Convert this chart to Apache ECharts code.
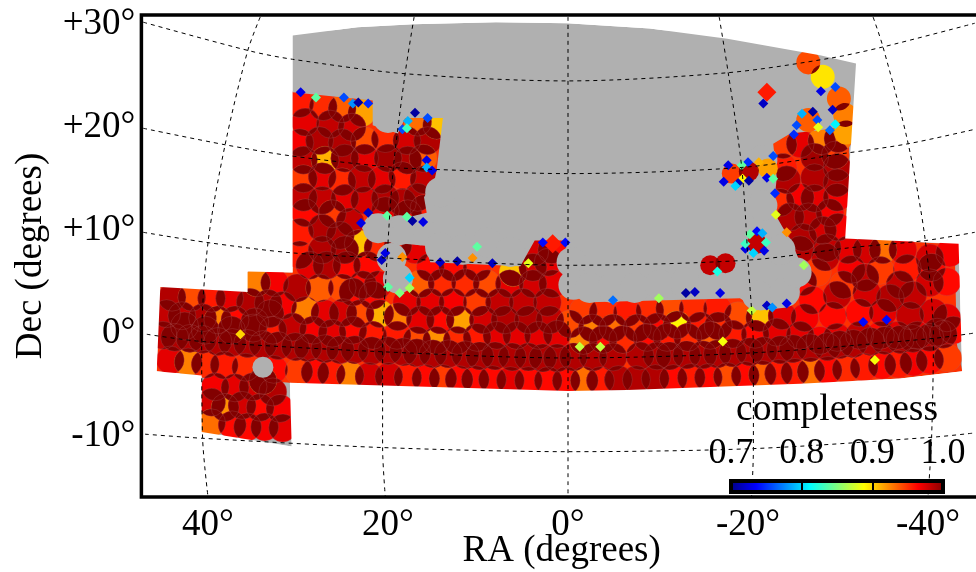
<!DOCTYPE html>
<html><head><meta charset="utf-8">
<style>html,body{margin:0;padding:0;background:#fff}#c{width:976px;height:572px}</style>
<script src="https://cdn.jsdelivr.net/npm/echarts@6/dist/echarts.min.js"></script>
</head><body><div id="c"></div>
<script>
const raTicks=[40,20,0,-20,-40];
const decTicks=[30,20,10,0,-10];
const barTicks=[0.7,0.8,0.9,1.0];
const barInnerTicks=[0.8,0.9];
const jet=['#00007f','#0000ff','#007fff','#00ffff','#7fff7f','#ffff00','#ff7f00','#ff0000','#7f0000'];

const footprint=[[30.6,28.9],[23.4,29.7],[17.2,30],[8,30.2],[0.1,30.1],[-9.1,29.6],[-17.7,28.6],[-28,27],[-32,26.2],[-30.8,9.2],[-43.4,8.7],[-43.8,-3.7],[-36.9,-4.4],[-25.8,-4.9],[-6.6,-5.5],[0,-5.6],[12,-5.3],[30.9,-4.8],[30.7,-11],[40.7,-9.6],[40.7,-4.1],[45.7,-3.7],[45.3,4.5],[35.6,4],[35.6,6],[30.6,5.9]];
const covered=[[30.6,23.4],[-31.5,23.4],[-30.8,9.2],[-42,8.7],[-43,7],[-43.2,-1],[-43.8,-3.7],[-36.9,-4.4],[-25.8,-4.9],[-6.6,-5.5],[0,-5.6],[12,-5.3],[30.9,-4.8],[40.7,-4.1],[45.7,-3.7],[45.3,4.5],[35.6,4],[35.6,6],[30.6,5.9]];
const uncovered=[[30.6,29.4],[30.6,23.4],[21.7,22.6],[21.7,20.2],[18.9,19.4],[18.1,20.9],[13.9,20.9],[14.6,15.8],[14.8,15],[16,13.2],[15.7,11.7],[18.1,11.2],[22,11.6],[22.9,10.2],[21.8,9],[15.9,8.5],[15.3,6.9],[5.3,6.5],[3.7,9],[0.2,9],[0.2,5.6],[-2.4,3],[-19.1,3.4],[-21.3,2.2],[-24.3,2.5],[-26.7,5.6],[-25.8,6.9],[-24.9,8.7],[-22.8,11.9],[-23.2,15.1],[-22.8,18.4],[-24.7,19.4],[-28,19.7],[-31.1,20.2],[-32.4,20.2],[-32.4,29.4]];
const maskedFields=[[20,20.9],[14.2,13.7],[16.4,10],[18.7,10],[21.1,10.2],[19.6,7.3],[18.9,5.3],[14.2,8.3],[11.7,8.1],[9,8.8],[6.4,7.9],[-0.4,6.9],[-0.6,4.7],[-2.4,4.4],[-4.9,4.4],[-7.4,4.4],[-10.2,4.7],[-13,4.9],[-16,4.9],[-18.6,4.9],[-21,3.7],[-24.1,4],[-25.4,5.9],[-23.6,8.1],[-21.6,12.4],[-21.6,16.8]];
const maskedSmall=[[33.9,-3.3]];

const tilesBottomRow=[[44.2,-2.6,.97],[42.2,-2.8,.925],[40.3,-3,.95],[38.2,-3.1,.955],[35.8,-3.3,.95],[32.7,-3.5,.96],[29.9,-3.7,.945],[28.1,-3.8,.96],[26.3,-3.9,.955],[24.2,-4.1,.925],[22.1,-4.2,.975],[19.9,-4.2,.975],[17.8,-4.3,.955],[15.8,-4.4,.96],[13.9,-4.4,.945],[12.1,-4.5,.96],[10.3,-4.5,.96],[8.4,-4.5,.96],[6.4,-4.6,.97],[4.4,-4.6,.96],[2.2,-4.6,.96],[0.2,-4.6,.96],[-1.8,-4.6,.93],[-3.6,-4.6,.955],[-5.6,-4.5,.985],[-7.6,-4.5,.985],[-9.7,-4.4,.985],[-11.7,-4.4,.96],[-13.7,-4.3,.955],[-15.6,-4.3,.96],[-17.7,-4.2,.94],[-19.7,-4.1,.96],[-21.6,-4,.935],[-23.4,-3.9,.955],[-25.2,-3.8,.955],[-27,-3.7,.93],[-28.9,-3.6,.96],[-30.9,-3.5,.95],[-32.9,-3.3,.955],[-34.9,-3.1,.96],[-36.7,-3,.955],[-38.4,-2.8,.965],[-40.2,-2.6,.96],[-42.2,-2.4,.945]];
const tilesSecondRow=[[45,-0.2,.98],[43.7,-.4,.985],[42,-.5,.985],[40.6,-.6,.985],[38.9,-.8,.985],[37.3,-.9,.985],[35.6,-1,.985],[33.9,-1.1,.985],[32.2,-1.2,.985],[30.3,-1.3,.985],[28.9,-1.4,.985],[27,-1.5,.985],[25.3,-1.6,.985],[23.7,-1.6,.985],[21.8,-1.7,.985],[20,-1.7,.985],[18.3,-1.8,.985],[16.8,-1.9,.985],[15,-2,.985],[13.3,-2,.985],[11.4,-2.1,.985],[9.8,-2.2,.985],[8.1,-2.2,.985],[6.2,-2.3,.985],[4.4,-2.3,.985],[2.8,-2.4,.985],[1.2,-2.4,.985],[-.6,-2.3,.985],[-2.8,-2.3,.985],[-5,-2.3,.985],[-8,-2.2,.985],[-9.9,-2.2,.985],[-11.3,-2.2,.985],[-13.2,-2.1,.985],[-15,-2.1,.985],[-16.6,-2,.985],[-18.3,-1.9,.985],[-20.2,-1.8,.985],[-21.7,-1.7,.985],[-23.6,-1.6,.985],[-25,-1.5,.985],[-26.9,-1.4,.985],[-28.8,-1.3,.985],[-30.2,-1.1,.985],[-31.7,-1,.985],[-33.6,-.8,.985],[-35.2,-.7,.985],[-36.9,-.6,.985],[-38.3,-.5,.985],[-40.2,-.4,.985],[-41.7,-.1,.985]];
const tilesLowerLeft=[[44,3.5,.985],[41.8,3.5,.94],[39.6,3.4,.955],[37.6,3.4,.97],[35.3,3,.985],[33.3,2.9,.985],[44.6,1.9,.98],[42.9,1.7,.98],[40.6,1.5,.985],[38.9,1.3,.925],[37,1.3,.96],[34.8,1.1,.985],[33.1,1.9,.97],[31.7,2.7,.965],[29.2,2.2,.925],[27,1.9,.97],[25,2,.975],[23.1,1.9,.94],[20.9,1.9,.91],[18.9,1.6,.925],[42.6,.7,.985],[40.3,.3,.985],[37.4,.3,.98],[35,.5,.96],[32.8,.3,.955],[30.6,.6,.98],[28.3,.3,.965],[26.2,0,.97],[23.9,.3,.96],[21.7,-.2,.955],[19,-.2,.955],[16.8,-.7,.94],[14.6,-.7,.92],[12.3,-.7,.95],[10.1,-.4,.955],[7.9,-.2,.97],[5.7,-.2,.97],[3.3,-.2,.97],[1.2,-.1,.97]];
const tilesMiddle=[[16.4,1.3,.97],[14.2,1.3,.96],[12,1.3,.915],[9.4,1.3,.975],[7,1.3,.985],[4.4,1.3,.985],[2,1.3,.98],[17.9,3,.97],[15.3,3,.97],[12.8,3,.965],[10.1,3,.945],[7.6,3,.98],[5,3,.98],[2.3,3,.98],[21.7,3.7,.96],[23.9,4,.96],[32.6,4.9,.965],[34.6,4.9,.925],[30.1,4.4,.985],[27.6,4.4,.935],[25.1,4.4,.94],[22.8,4.7,.96],[21.1,4.7,.97],[16.4,4.8,.935],[14,4.9,.95],[11.4,4.9,.95],[9,4.8,.94],[6.5,4.8,.97],[3.9,4.8,.975],[1.7,4.8,.97],[28.7,6.6,.97],[26.8,6.6,.985],[24.6,6.6,.96],[22.3,6.6,.96],[15.3,6.4,.96],[12.8,6.4,.96],[10.1,6.4,.955],[6.1,5.9,.905],[3.9,6.4,.975],[2.2,6.9,.97],[3.7,7.9,.975],[1.8,8.1,.96]];
const tilesCentreRight=[[-1.7,2.2,.945],[-3.9,2,.95],[-6.6,2,.955],[-9.1,2.2,.95],[-11.3,2.4,.94],[-13.9,2.4,.95],[-16.6,2.4,.955],[-18.9,1.7,.94],[-21.3,1.5,.905],[-23.8,1.7,.97],[-.2,.9,.94],[-2.7,.5,.925],[-5,.5,.93],[-7.7,.5,.945],[-9.9,.6,.96],[-12.1,.8,.89],[-14.7,.7,.955],[-16.7,.7,.95],[-1.7,-.7,.925],[-3.9,-.6,.96],[-6.1,-.6,.95],[-8.8,-.4,.96],[-11,-.4,.955],[-13.3,-.4,.95],[-15.8,-.2,.935],[-18.3,-.1,.955],[-20.8,-.1,.96],[-23.2,.1,.97]];
const tilesRightBlock=[[-26.1,5,.96],[-27.7,5.9,.945],[-30.6,4.7,.945],[-34.7,6.1,.945],[-37.7,6.3,.955],[-40.2,4.9,.975],[-42.1,5,.96],[-36.9,4.7,.98],[-29.9,3.7,.98],[-33.2,3.9,.975],[-35.8,3.4,.985],[-38.3,3.7,.98],[-40.6,2,.975],[-42.1,1.5,.97],[-38,1.7,.98],[-35,2,.97],[-32.4,2,.96],[-29.4,1.7,.96],[-27.2,3.2,.96],[-26.3,1.5,.965],[-33.2,8.1,.975],[-37.2,8.1,.97],[-40.2,7.3,.975],[-42.4,7.8,.965],[-35,8.1,.93],[-31.1,8.1,.97],[-28.6,7.4,.98],[-32.4,-.2,.98],[-34.7,-.2,.96],[-36.6,-.2,.97],[-38.8,-.2,.97],[-41,.1,.975],[-42.8,.3,.96],[-29.9,-.4,.97],[-28,-.7,.965],[-25.8,-.2,.97],[-24.7,6.1,.985],[-31.5,6.2,.965],[-40.4,6.4,.96],[-33,5.4,.98]];
const tilesUpperRight=[[-25.8,18.4,.97],[-27.4,17.1,.99],[-29.9,16.1,.985],[-23.9,16.1,.955],[-27.4,15.1,.985],[-24.3,14.9,.985],[-29.9,14.6,.985],[-25.8,13.2,.965],[-29.9,13.2,.965],[-27.4,13.1,.97],[-23.6,12.7,.95],[-29.1,11.7,.965],[-24.7,11.3,.985],[-26.7,11.3,.98],[-26.1,9.3,.985],[-28.3,10,.975],[-30,10.3,.965],[-28.8,8.3,.98],[-25.8,8.1,.985],[-28.2,18.7,.925],[-30,18.9,.93],[-23.9,18.3,.945],[-29.7,17.3,.945]];
const tilesUpperLeft=[[29.8,22.3,.955],[27.2,22,.95],[25.1,21.8,.935],[22.9,21.4,.915],[29.2,20.5,.97],[26.4,20.3,.98],[24,20,.975],[29.8,18.5,.965],[27.6,18.7,.985],[25.1,18.5,.985],[22.6,18.7,.94],[20.3,18.9,.95],[17.9,18.7,.975],[15.6,18.7,.985],[16.7,20.5,.93],[14.6,20.2,.905],[29.4,16.8,.98],[27,16.8,.91],[24.8,17,.985],[22.6,17,.97],[20,17,.99],[17.8,16.8,.985],[16.1,17,.935],[29.4,15,.945],[27.3,15.2,.97],[25.1,14.7,.95],[22.9,15,.98],[20.7,14.9,.97],[18.4,15.3,.955],[16,14.9,.98],[29.4,13.2,.98],[27.3,12.9,.98],[24.8,13.1,.97],[22.6,12.9,.975],[20.3,13.1,.985],[18.4,12.7,.985],[16.7,13.2,.985],[29.2,11.7,.96],[26.2,11.6,.945],[24.2,10.8,.98],[20.3,11.9,.97],[17.8,11.6,.96],[16,12.1,.955],[29.8,9.8,.955],[27.3,10.2,.985],[25.3,9.5,.985],[29.8,7.6,.955],[27.3,8.1,.985],[24.8,8.1,.985],[23.3,8.7,.905],[21.1,8.3,.95],[18.9,8.5,.95],[17,8.1,.97]];
const tilesSouthPatch=[[39.2,-5.2,.965],[37,-5.3,.97],[35,-5.2,.975],[32.8,-5.7,.985],[39.6,-6.7,.975],[38.1,-7.2,.92],[36.2,-7,.975],[34.2,-7.2,.96],[32,-7.3,.965],[39.6,-8.7,.93],[37.3,-8.9,.96],[35.6,-9.1,.96],[33.7,-9.1,.965],[31.7,-9.2,.97],[33.9,-4.6,.92]];
const islandTiles=[[-26.7,26.3,.94],[-28.3,24.9,.895],[-30.1,22.8,.935],[-30.8,21.2,.925],[-30.9,19.5,.915],[-26.7,20.7,.935]];
const smallIslandTiles=[[-15.8,6.6,.98],[-17.5,6.8,.98],[-18.2,15.5,.945],[-20.1,15.7,.985],[-22.2,16,.915],[-21,8.7,.98]];
const starIslands=[[-22.1,23.4,.955],[1.7,8.7,.955]];
const fragments=[[29.7,23.4,.73],[28,22.9,.84],[24.9,22.9,.76],[23.9,22.3,.78],[23.3,22.4,.71],[22.2,22.3,.75],[17,21.4,.71],[17.8,20.6,.79],[15.6,20.9,.76],[18.4,19.8,.76],[17.9,19.9,.83],[15.7,16.8,.73],[15.7,16.1,.79],[15.1,15.8,.73],[22.2,11.7,.72],[20.1,11.4,.84],[17.3,10.9,.71],[16.1,10.8,.73],[17.9,11.3,.84],[23,10.7,.73],[20.3,7.8,.73],[10.1,8.4,.84],[2.8,8.8,.74],[.3,8.8,.74],[12.3,7,.71],[14.2,6.9,.72],[8.4,6.8,.72],[17.6,5.4,.8],[20,4.5,.84],[18.7,3.9,.85],[17.6,4.4,.86],[20.7,7.1,.72],[18.4,7.4,.92],[10.6,7.3,.92],[4.4,6.8,.88],[-5,3.2,.77],[-10.1,3.4,.86],[-13.1,3.9,.71],[-14.1,4,.72],[-16.9,3.9,.73],[-22.1,2.7,.72],[-24.3,2.9,.73],[-22.7,2.5,.78],[-26.2,6.6,.86],[-20.4,2.2,.87],[-16.6,6,.82],[-17.2,-.8,.885],[-34.1,-2.6,.885],[-1.3,-1.3,.87],[-3.6,-1.3,.87],[-32.8,1.1,.74],[-35.4,1.3,.74],[-29.4,21.7,.72],[-29.7,20.3,.81],[-29.1,19.7,.77],[-28.1,23.5,.73],[-29.7,23.9,.76],[-22.8,17.2,.76],[-23,13.6,.75],[-23.1,11.5,.88],[-24.3,9.8,.92],[-21.7,22.3,.72],[-26,21.3,.79],[-27.7,20.7,.76],[-27.2,21.5,.71],[-25.4,20.2,.76],[-27.8,20,.88],[-25.1,19.3,.75],[-17.8,16.3,.73],[-20,16.6,.75],[-19.3,16.3,.84],[-19.4,15,.89],[-20.1,14.8,.71],[-18.9,14.6,.72],[-17.3,14.7,.73],[-22.1,15.1,.73],[-22.8,15,.84],[-18.6,14.3,.8],[-21.2,16.6,.91],[-20.2,9.6,.84],[-21,9.9,.74],[-21.6,9.7,.79],[-22,8.8,.83],[-21.8,8,.73],[-20.6,7.8,.8],[-19.7,8.2,.73],[-19.7,8.7,.83],[36.4,-.1,.9]];

const decLines=[
[[47.2,30.2],[35.3,27.4],[30.6,26.6],[18.1,25.2],[0.1,24.5],[-17.8,25.3],[-29.1,26.7],[-35,27.8],[-45.2,30.1]],
[[47.2,19.9],[38.1,18.3],[30.6,17.2],[19.4,16.1],[14.6,15.9],[0.1,15.5],[-19.3,16.1],[-31,17.5],[-37.8,18.4],[-45.2,19.8]],
[[47.2,9.8],[40,8.8],[30.6,7.8],[20.1,7.3],[0,6.6],[-20,7.1],[-31.3,8.3],[-39.7,9],[-45.2,9.8]],
[[46.8,-.1],[40.7,-.8],[20.6,-1.8],[0,-2.4],[-20.6,-1.9],[-40.6,-.5],[-45,0]],
[[47,-9.8],[40.6,-10.2],[20.6,-11.1],[0,-11.5],[-20.6,-11.2],[-40.4,-10.1],[-45,-9.7]]];
const raLines=[
[[34.2,30.7],[35.6,27.4],[38.1,18.3],[40,8.8],[40.7,-.8],[40.6,-10.2],[40,-15.9]],
[[17.1,30.7],[18.1,25.2],[19.4,16.1],[20.1,7.3],[20.6,-1.8],[20.6,-11.1],[20.3,-15.9]],
[[0,30.7],[0,-15.9]],
[[-16.8,30.7],[-17.8,25.3],[-19.3,16.1],[-20,7.1],[-20.6,-1.9],[-20.6,-11.2],[-20.4,-15.9]],
[[-33.9,30.7],[-35,27.8],[-37.8,18.4],[-39.7,9],[-40.6,-.5],[-40.4,-10.1],[-40,-15.9]]];

const RA_MIN=-46, RA_MAX=47.4, DEC_MIN=-15.9, DEC_MAX=30.9;
const FONT='"Liberation Serif"';
const tiles=[].concat(tilesBottomRow,tilesSecondRow,tilesLowerLeft,tilesMiddle,tilesCentreRight,tilesRightBlock,tilesUpperRight,tilesUpperLeft,tilesSouthPatch);

function overlapPairs(list,r){
  const out=[];
  for(let i=0;i<list.length;i++)for(let j=i+1;j<list.length;j++){
    const dx=(list[i][0]-list[j][0])*9, dy=(list[i][1]-list[j][1])*10.3;
    if(dx*dx+dy*dy<4*r*r) out.push([list[i][0],list[i][1],list[j][0],list[j][1]]);
  }
  return out;
}
function lensSeries(list,r,z){
  return {type:'custom',coordinateSystem:'cartesian2d',xAxisIndex:0,yAxisIndex:0,z,silent:true,clip:false,
    encode:{x:[0,2],y:[1,3]},data:overlapPairs(list,r),
    renderItem(p,api){
      const a=api.coord([api.value(0),api.value(1)]),b=api.coord([api.value(2),api.value(3)]);
      const dx=b[0]-a[0],dy=b[1]-a[1],d=Math.hypot(dx,dy);
      if(d>=2*r||d===0)return null;
      const h=Math.acos(d/(2*r)),t=Math.atan2(dy,dx),pts=[];
      for(let k=0;k<=8;k++){const u=t-h+2*h*k/8;pts.push([a[0]+r*Math.cos(u),a[1]+r*Math.sin(u)]);}
      for(let k=0;k<=8;k++){const u=t+Math.PI-h+2*h*k/8;pts.push([b[0]+r*Math.cos(u),b[1]+r*Math.sin(u)]);}
      return {type:'polygon',shape:{points:pts},style:{fill:'#820000'}};
    }};
}
function polySeries(pts,fill,z){
  return {type:'custom',coordinateSystem:'cartesian2d',xAxisIndex:0,yAxisIndex:0,z,silent:true,clip:false,
    encode:{x:0,y:1},data:pts,
    renderItem(p,api){
      if(p.dataIndex!==0)return null;
      return {type:'polygon',shape:{points:pts.map(q=>api.coord(q))},style:{fill}};
    }};
}
const frameLoop=[[RA_MAX,DEC_MAX],[RA_MAX,DEC_MIN],[RA_MIN,DEC_MIN],[RA_MIN,DEC_MAX],[RA_MAX,DEC_MAX]];
const outside=frameLoop.concat(footprint,[footprint[0]]);
const scatter=(data,size,z,style,extra)=>Object.assign({type:'scatter',xAxisIndex:0,yAxisIndex:0,data,symbolSize:size,z,silent:true,itemStyle:Object.assign({opacity:1},style||{})},extra||{});
const GRAY='#b0b0b0';

const series=[
  polySeries(footprint,GRAY,1),
  polySeries(covered,'#ff3000',2),
  scatter(tiles,28,3),
  lensSeries(tiles,14,4),
  scatter(tiles,28,5,{color:'rgba(0,0,0,0)',borderColor:'rgba(175,95,95,.4)',borderWidth:.7}),
  polySeries(uncovered,GRAY,6),
  scatter(maskedFields,30,7,{color:GRAY}),
  scatter(maskedSmall,21,7,{color:GRAY}),
  scatter(islandTiles,24,8),
  lensSeries(islandTiles,12,9),
  scatter(smallIslandTiles,20,8),
  lensSeries(smallIslandTiles,10,9),
  scatter(starIslands,19,8,{},{symbol:'diamond'}),
  scatter(fragments,10,10,{},{symbol:'diamond'}),
  polySeries(outside,'#fff',11)
];
decLines.concat(raLines).forEach(l=>series.push({type:'line',xAxisIndex:0,yAxisIndex:0,data:l,smooth:.3,showSymbol:false,silent:true,z:12,
  lineStyle:{color:'#000',width:1,type:[4,4]}}));

const chart=echarts.init(document.getElementById('c'),null,{renderer:'canvas'});
chart.setOption({
  animation:false,backgroundColor:'#fff',
  grid:[
    {left:141.4,top:15,width:840.6,height:482,outerBoundsMode:'none',show:true,backgroundColor:'transparent',borderColor:'#000',borderWidth:3.5,z:20},
    {left:731,top:481,width:212,height:11,outerBoundsMode:'none',show:true,z:30,borderColor:'#000',borderWidth:4,
     backgroundColor:new echarts.graphic.LinearGradient(0,0,1,0,jet.map((c,i)=>({offset:i/8,color:c})))}
  ],
  xAxis:[
    {type:'value',gridIndex:0,inverse:true,min:RA_MIN,max:RA_MAX,splitLine:{show:false},axisLine:{show:false},axisTick:{show:false},
     axisLabel:{customValues:raTicks,formatter:v=>v+'°',fontFamily:FONT,fontSize:37,color:'#000',margin:10},
     name:'RA (degrees)',nameLocation:'middle',nameGap:36,nameMoveOverlap:false,nameTextStyle:{fontFamily:FONT,fontSize:37,color:'#000'}},
    {type:'value',gridIndex:1,position:'top',min:0.7,max:1,z:31,splitLine:{show:false},axisLine:{show:false,onZero:false},
     axisTick:{show:true,inside:true,length:11,customValues:barInnerTicks,lineStyle:{color:'#000',width:2}},
     axisLabel:{customValues:barTicks,formatter:v=>v.toFixed(1),fontFamily:FONT,fontSize:36,color:'#000',margin:9,showMinLabel:true,showMaxLabel:true},
     name:'completeness',nameLocation:'middle',nameGap:52,nameMoveOverlap:false,nameTextStyle:{fontFamily:FONT,fontSize:37.5,color:'#000'}}
  ],
  yAxis:[
    {type:'value',gridIndex:0,min:DEC_MIN,max:DEC_MAX,splitLine:{show:false},axisLine:{show:false},axisTick:{show:false},
     axisLabel:{customValues:decTicks,formatter:v=>(v>0?'+':'')+v+'°',fontFamily:FONT,fontSize:37,color:'#000',margin:6},
     name:'Dec (degrees)',nameLocation:'middle',nameGap:92,nameTextStyle:{fontFamily:FONT,fontSize:37,color:'#000'}},
    {type:'value',gridIndex:1,show:false,min:0,max:1}
  ],
  visualMap:{type:'continuous',show:false,min:0.7,max:1,dimension:2,seriesIndex:[2,8,10,12,13],inRange:{color:jet}},
  series
});
</script></body></html>
